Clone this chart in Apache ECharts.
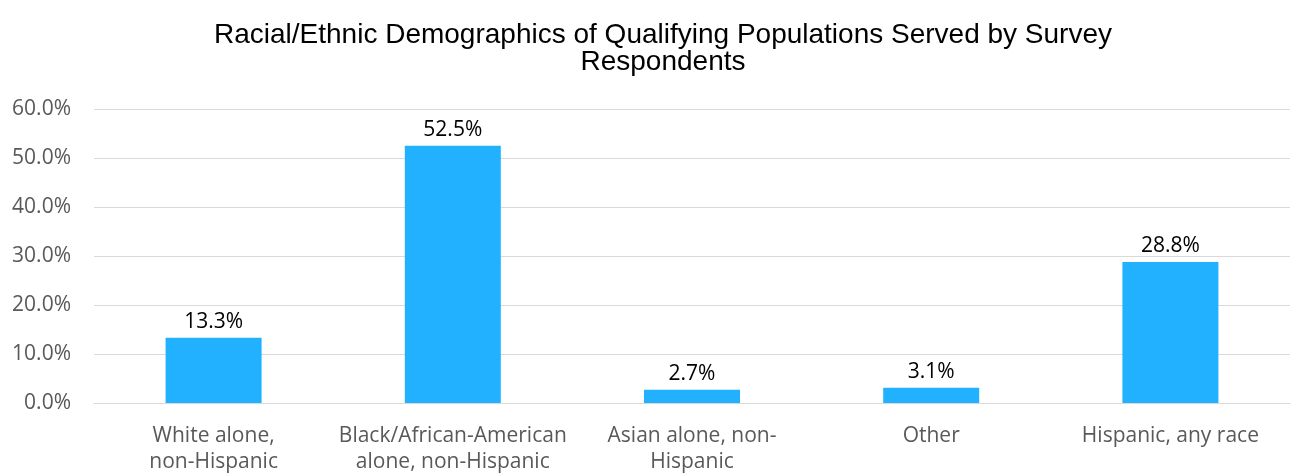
<!DOCTYPE html>
<html>
<head>
<meta charset="utf-8">
<script src="https://cdn.jsdelivr.net/npm/echarts@6/dist/echarts.min.js"></script>
<style>
  html, body { margin: 0; padding: 0; background: #fff; }
  #chart { width: 1295px; height: 475px; }
</style>
</head>
<body>
<div id="chart"></div>
<script>
// Categories and shares (percent)
const categories = [
  'White alone,\nnon-Hispanic',
  'Black/African-American\nalone, non-Hispanic',
  'Asian alone, non-\nHispanic',
  'Other',
  'Hispanic, any race'
];
const shares = [13.3, 52.5, 2.7, 3.1, 28.8];
const titleText = 'Racial/Ethnic Demographics of Qualifying Populations Served by Survey\nRespondents';

const chart = echarts.init(document.getElementById('chart'));
chart.setOption({
  animation: false,
  backgroundColor: '#ffffff',
  title: {
    text: titleText,
    left: 658,
    textAlign: 'center',
    top: 17,
    textStyle: {
      fontFamily: 'Liberation Sans, Arial, sans-serif',
      fontWeight: 'normal',
      fontSize: 28,
      lineHeight: 27,
      color: '#000000'
    }
  },
  grid: { left: 94, right: 5, top: 109, bottom: 70, containLabel: false },
  xAxis: {
    type: 'category',
    data: categories,
    axisLine: { show: true, lineStyle: { color: '#d9d9d9', width: 1 } },
    axisTick: { show: false },
    axisLabel: {
      interval: 0,
      margin: 20,
      color: '#595959',
      fontFamily: 'Open Sans, sans-serif',
      fontSize: 21,
      lineHeight: 26
    }
  },
  yAxis: {
    type: 'value',
    min: 0,
    max: 60,
    interval: 10,
    axisLine: { show: false },
    axisTick: { show: false },
    splitLine: { lineStyle: { color: '#d9d9d9', width: 1 } },
    axisLabel: {
      formatter: v => v.toFixed(1) + '%',
      margin: 23,
      color: '#595959',
      fontFamily: 'Open Sans, sans-serif',
      fontSize: 21
    }
  },
  series: [{
    type: 'bar',
    data: shares,
    barWidth: 96,
    itemStyle: { color: '#21b1ff' },
    label: {
      show: true,
      position: 'top',
      distance: 5,
      formatter: p => p.value.toFixed(1) + '%',
      color: '#000000',
      fontFamily: 'Open Sans, sans-serif',
      fontSize: 21
    }
  }]
});
</script>
</body>
</html>
